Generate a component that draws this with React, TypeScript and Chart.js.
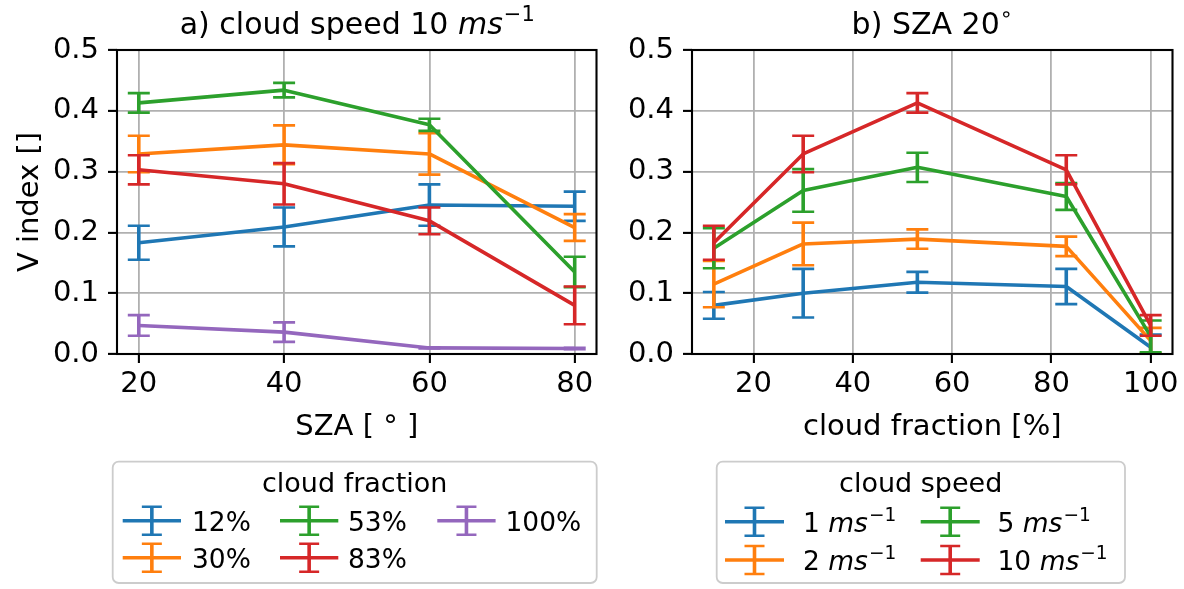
import React, { useEffect, useRef } from 'react';
import { Chart, registerables } from 'chart.js';

Chart.register(...registerables);

const FONT = '"DejaVu Sans", "Liberation Sans", sans-serif';
const TAB = ['#1f77b4', '#ff7f0e', '#2ca02c', '#d62728', '#9467bd'];

// Panel (a): V index against solar zenith angle, cloud speed 10 m/s
const szaValues = [20, 40, 60, 80];
const szaTicks = [20, 40, 60, 80];
const fractionLabels = ['12%', '30%', '53%', '83%', '100%'];
const vFrac12 = [0.183, 0.209, 0.245, 0.243];
const eFrac12 = [0.028, 0.032, 0.034, 0.024];
const vFrac30 = [0.329, 0.344, 0.329, 0.208];
const eFrac30 = [0.030, 0.032, 0.034, 0.022];
const vFrac53 = [0.413, 0.434, 0.377, 0.135];
const eFrac53 = [0.016, 0.012, 0.010, 0.025];
const vFrac83 = [0.303, 0.280, 0.219, 0.080];
const eFrac83 = [0.024, 0.034, 0.022, 0.031];
const vFrac100 = [0.047, 0.036, 0.010, 0.009];
const eFrac100 = [0.017, 0.016, 0.001, 0.001];

// Panel (b): V index against cloud fraction, SZA 20°
const fractionValues = [12, 30, 53, 83, 100];
const fractionTicks = [20, 40, 60, 80, 100];
const speedLabels = ['1', '2', '5', '10'];
const vSpeed1 = [0.080, 0.100, 0.118, 0.111, 0.011];
const eSpeed1 = [0.022, 0.040, 0.017, 0.029, 0.021];
const vSpeed2 = [0.115, 0.181, 0.189, 0.177, 0.022];
const eSpeed2 = [0.038, 0.035, 0.016, 0.016, 0.021];
const vSpeed5 = [0.174, 0.269, 0.307, 0.259, 0.029];
const eSpeed5 = [0.033, 0.035, 0.024, 0.022, 0.026];
const vSpeed10 = [0.183, 0.329, 0.413, 0.303, 0.047];
const eSpeed10 = [0.028, 0.030, 0.016, 0.024, 0.017];

const vTicks = [0, 0.1, 0.2, 0.3, 0.4, 0.5];

const TICK_SIZE = 29;
const LABEL_SIZE = 29;
const TITLE_SIZE = 30;
const LEGEND_SIZE = 26.5;
const CANVAS_H = 589;
const AREA_TOP = 50;
const AREA_BOTTOM = 354;

type Run = { t: string; it?: boolean; sup?: boolean };

function runFont(r: Run, size: number) {
  const s = r.sup ? size * 0.7 : size;
  return `${r.it ? 'italic ' : ''}${s}px ${FONT}`;
}

function measureRuns(ctx: CanvasRenderingContext2D, runs: Run[], size: number) {
  let w = 0;
  for (const r of runs) {
    ctx.font = runFont(r, size);
    w += ctx.measureText(r.t).width;
  }
  return w;
}

function drawRuns(ctx: CanvasRenderingContext2D, runs: Run[], x: number, baseline: number, size: number, align: 'left' | 'center') {
  let cx = align === 'center' ? x - measureRuns(ctx, runs, size) / 2 : x;
  ctx.textAlign = 'left';
  ctx.textBaseline = 'alphabetic';
  ctx.fillStyle = '#000';
  for (const r of runs) {
    ctx.font = runFont(r, size);
    const dy = r.sup ? -size * 0.42 : 0;
    ctx.fillText(r.t, cx, baseline + dy);
    cx += ctx.measureText(r.t).width + (r.it ? 1 : 0);
  }
}

type LegendSpec = {
  box: [number, number, number, number];
  title: string;
  titleX: number;
  titleBase: number;
  handleX: number[];
  handleW: number;
  textX: number[];
  rowY: number[];
  entries: Run[][];
};

function drawErrorGlyph(ctx: CanvasRenderingContext2D, color: string, x0: number, w: number, cy: number) {
  ctx.save();
  ctx.strokeStyle = color;
  ctx.lineCap = 'butt';
  ctx.lineWidth = 3.6;
  ctx.beginPath();
  ctx.moveTo(x0, cy);
  ctx.lineTo(x0 + w, cy);
  const mx = x0 + w / 2;
  ctx.moveTo(mx, cy - 14);
  ctx.lineTo(mx, cy + 14);
  ctx.stroke();
  ctx.lineWidth = 2.6;
  ctx.beginPath();
  ctx.moveTo(mx - 10, cy - 14);
  ctx.lineTo(mx + 10, cy - 14);
  ctx.moveTo(mx - 10, cy + 14);
  ctx.lineTo(mx + 10, cy + 14);
  ctx.stroke();
  ctx.restore();
}

function drawLegend(ctx: CanvasRenderingContext2D, spec: LegendSpec, colors: string[]) {
  const [x0, y0, x1, y1] = spec.box;
  ctx.save();
  ctx.beginPath();
  (ctx as any).roundRect(x0, y0, x1 - x0, y1 - y0, 6);
  ctx.fillStyle = 'rgba(255,255,255,0.8)';
  ctx.fill();
  ctx.strokeStyle = '#cccccc';
  ctx.lineWidth = 1.8;
  ctx.stroke();
  drawRuns(ctx, [{ t: spec.title }], spec.titleX, spec.titleBase, 27, 'center');
  const nRows = spec.rowY.length;
  spec.entries.forEach((runs, i) => {
    const col = Math.floor(i / nRows);
    const row = i % nRows;
    const cy = spec.rowY[row];
    drawErrorGlyph(ctx, colors[i], spec.handleX[col], spec.handleW, cy);
    drawRuns(ctx, runs, spec.textX[col], cy + 10, LEGEND_SIZE, 'left');
  });
  ctx.restore();
}

// Error bars are drawn just before each line, so the line sits above its own bars
const errorBarPlugin = {
  id: 'errorBars',
  beforeDatasetDraw(chart: any, args: any) {
    const ds = chart.data.datasets[args.index];
    const errs: number[] | undefined = ds.errors;
    if (!errs) return;
    const { ctx, chartArea, scales } = chart;
    const xs = scales.x;
    const ys = scales.y;
    ctx.save();
    ctx.beginPath();
    ctx.rect(chartArea.left, chartArea.top, chartArea.right - chartArea.left, chartArea.bottom - chartArea.top);
    ctx.clip();
    ctx.strokeStyle = ds.borderColor;
    ctx.lineCap = 'butt';
    ds.data.forEach((p: any, i: number) => {
      const px = xs.getPixelForValue(p.x);
      const lo = ys.getPixelForValue(p.y - errs[i]);
      const hi = ys.getPixelForValue(p.y + errs[i]);
      ctx.lineWidth = 3.6;
      ctx.beginPath();
      ctx.moveTo(px, lo);
      ctx.lineTo(px, hi);
      ctx.stroke();
      ctx.lineWidth = 2.6;
      ctx.beginPath();
      ctx.moveTo(px - 11, lo);
      ctx.lineTo(px + 11, lo);
      ctx.moveTo(px - 11, hi);
      ctx.lineTo(px + 11, hi);
      ctx.stroke();
    });
    ctx.restore();
  },
};

// Full matplotlib-style frame, drawn above the data lines
const framePlugin = {
  id: 'frame',
  afterDatasetsDraw(chart: any) {
    const { ctx, chartArea } = chart;
    ctx.save();
    ctx.strokeStyle = '#000';
    ctx.lineWidth = 2.1;
    ctx.lineJoin = 'miter';
    ctx.strokeRect(chartArea.left, chartArea.top, chartArea.right - chartArea.left, chartArea.bottom - chartArea.top);
    ctx.restore();
  },
};

type PanelSpec = {
  width: number;
  xValues: number[];
  xTicks: number[];
  series: { values: number[]; errors: number[] }[];
  xTitle: string;
  yTitle?: string;
  yWidth: number;
  rightPad: number;
  title: Run[];
  legend: LegendSpec;
};

function paddedRange(vals: number[]) {
  const lo = Math.min(...vals);
  const hi = Math.max(...vals);
  const m = (hi - lo) * 0.05;
  return [lo - m, hi + m];
}

function buildConfig(p: PanelSpec): any {
  const [xMin, xMax] = paddedRange(p.xValues);
  const colors = TAB.slice(0, p.series.length);
  const gridOpts = {
    color: '#b0b0b0',
    lineWidth: 1.8,
    tickColor: '#000',
    tickWidth: 2.1,
    tickLength: 9,
    drawTicks: true,
  };
  const decorPlugin = {
    id: 'decor',
    afterDraw(chart: any) {
      const { ctx, chartArea } = chart;
      drawRuns(ctx, p.title, (chartArea.left + chartArea.right) / 2, 34, TITLE_SIZE, 'center');
      drawLegend(ctx, p.legend, colors);
    },
  };
  return {
    type: 'line',
    data: {
      datasets: p.series.map((s, i) => ({
        data: p.xValues.map((x, j) => ({ x, y: s.values[j] })),
        errors: s.errors,
        borderColor: colors[i],
        backgroundColor: colors[i],
        borderWidth: 3.6,
        borderJoinStyle: 'round',
        pointRadius: 0,
        pointHoverRadius: 0,
        tension: 0,
        fill: false,
        order: -i,
      })),
    },
    options: {
      responsive: false,
      maintainAspectRatio: false,
      animation: false,
      events: [],
      layout: { padding: { top: AREA_TOP, left: 0, right: p.rightPad, bottom: 0 } },
      plugins: { legend: { display: false }, tooltip: { enabled: false }, title: { display: false } },
      scales: {
        x: {
          type: 'linear',
          min: xMin,
          max: xMax,
          afterBuildTicks: (s: any) => {
            s.ticks = p.xTicks.map((v) => ({ value: v }));
          },
          afterFit: (s: any) => {
            s.height = CANVAS_H - AREA_BOTTOM;
          },
          grid: gridOpts,
          border: { display: false },
          ticks: {
            color: '#000',
            font: { family: FONT, size: TICK_SIZE },
            padding: 4,
            maxRotation: 0,
            autoSkip: false,
            callback: (v: any) => String(v),
          },
          title: {
            display: true,
            text: p.xTitle,
            color: '#000',
            font: { family: FONT, size: LABEL_SIZE },
            padding: { top: 0, bottom: 144 },
          },
        },
        y: {
          type: 'linear',
          min: 0,
          max: 0.5,
          afterBuildTicks: (s: any) => {
            s.ticks = vTicks.map((v) => ({ value: v }));
          },
          afterFit: (s: any) => {
            s.width = p.yWidth;
          },
          grid: gridOpts,
          border: { display: false },
          ticks: {
            color: '#000',
            font: { family: FONT, size: TICK_SIZE },
            padding: 9,
            autoSkip: false,
            callback: (v: any) => Number(v).toFixed(1),
          },
          title: p.yTitle
            ? {
                display: true,
                text: p.yTitle,
                color: '#000',
                font: { family: FONT, size: LABEL_SIZE },
                padding: { top: 13, bottom: 0 },
              }
            : { display: false },
        },
      },
    },
    plugins: [errorBarPlugin, framePlugin, decorPlugin],
  };
}

const speedRuns = (s: string): Run[] => [{ t: s + ' ' }, { t: 'ms', it: true }, { t: '\u22121', sup: true }];

const panelA: PanelSpec = {
  width: 600,
  xValues: szaValues,
  xTicks: szaTicks,
  series: [
    { values: vFrac12, errors: eFrac12 },
    { values: vFrac30, errors: eFrac30 },
    { values: vFrac53, errors: eFrac53 },
    { values: vFrac83, errors: eFrac83 },
    { values: vFrac100, errors: eFrac100 },
  ],
  xTitle: 'SZA [ \u00b0 ]',
  yTitle: 'V index []',
  yWidth: 117,
  rightPad: 3.5,
  title: [{ t: 'a) cloud speed 10 ' }, { t: 'ms', it: true }, { t: '\u22121', sup: true }],
  legend: {
    box: [112.7, 461.7, 596.7, 583],
    title: 'cloud fraction',
    titleX: 354.7,
    titleBase: 491.7,
    handleX: [122.7, 280, 437.3],
    handleW: 58.3,
    textX: [192, 348, 505.5],
    rowY: [520.7, 557.7],
    entries: fractionLabels.map((l) => [{ t: l }]),
  },
};

const panelB: PanelSpec = {
  width: 584,
  xValues: fractionValues,
  xTicks: fractionTicks,
  series: [
    { values: vSpeed1, errors: eSpeed1 },
    { values: vSpeed2, errors: eSpeed2 },
    { values: vSpeed5, errors: eSpeed5 },
    { values: vSpeed10, errors: eSpeed10 },
  ],
  xTitle: 'cloud fraction [%]',
  yWidth: 92,
  rightPad: 11.5,
  title: [{ t: 'b) SZA 20' }, { t: '\u2218', sup: true }],
  legend: {
    box: [116.7, 461.7, 525, 583],
    title: 'cloud speed',
    titleX: 320.7,
    titleBase: 492,
    handleX: [125, 320.7],
    handleW: 59,
    textX: [203, 397.5],
    rowY: [521.7, 560],
    entries: speedLabels.map(speedRuns),
  },
};

function Panel({ spec, left }: { spec: PanelSpec; left: number }) {
  const ref = useRef<HTMLCanvasElement | null>(null);
  useEffect(() => {
    if (!ref.current) return;
    const chart = new Chart(ref.current, buildConfig(spec));
    return () => chart.destroy();
  }, [spec]);
  return (
    <div style={{ position: 'absolute', left, top: 0, width: spec.width, height: CANVAS_H }}>
      <canvas ref={ref} width={spec.width} height={CANVAS_H} style={{ display: 'block' }} />
    </div>
  );
}

export default function App() {
  return (
    <div style={{ position: 'absolute', left: 0, top: 0, width: 1184, height: CANVAS_H, background: '#fff' }}>
      <Panel spec={panelA} left={0} />
      <Panel spec={panelB} left={600} />
    </div>
  );
}
